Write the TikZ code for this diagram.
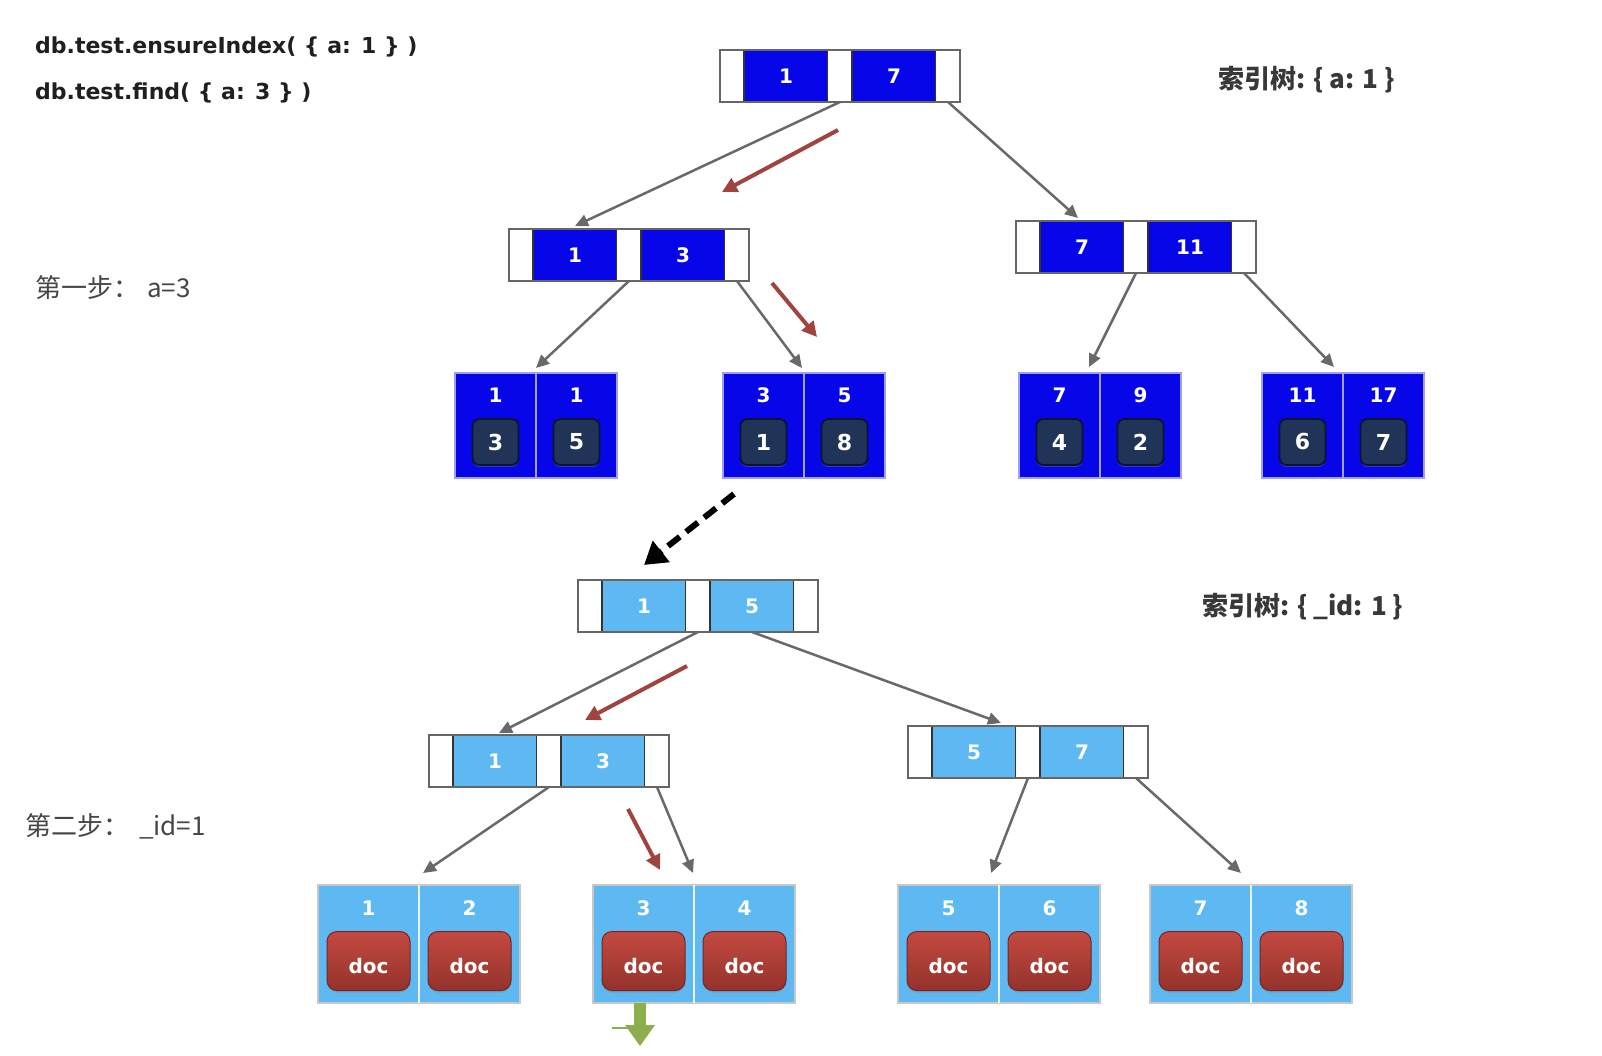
\documentclass[tikz,border=0pt]{standalone}
\usepackage{fontspec}
\setmainfont{DejaVu Sans}
\newfontfamily\mycjk{Noto Sans CJK SC}
\usetikzlibrary{arrows.meta,shadows}
\definecolor{dblue}{RGB}{6,6,232}
\definecolor{lblue}{RGB}{94,184,242}
\definecolor{innerbox}{RGB}{32,52,88}
\definecolor{innerline}{RGB}{10,20,45}
\definecolor{docTop}{RGB}{196,74,64}
\definecolor{docBot}{RGB}{148,50,44}
\definecolor{docLine}{RGB}{120,36,32}
\definecolor{hint}{RGB}{160,68,64}
\definecolor{edgegray}{RGB}{105,105,105}
\definecolor{leafgreen}{RGB}{140,174,76}
\definecolor{lavender}{RGB}{160,160,235}
\definecolor{labelgray}{RGB}{70,70,70}
\newcommand{\mynum}{\fontsize{20}{24}\selectfont\bfseries}
\newcommand{\mycode}{\fontsize{22}{26}\selectfont\bfseries}
\newcommand{\myidx}{\mycjk\fontsize{26}{30}\selectfont\bfseries}
\newcommand{\mystep}{\mycjk\fontsize{26}{30}\selectfont}
\tikzset{
  bbox/.style={minimum width=240pt, minimum height=52pt, inner sep=0pt, outer sep=0pt},
  wcell/.style={minimum width=24pt, minimum height=52pt, inner sep=0pt, outer sep=0pt, fill=white},
  bcell/.style={minimum width=84pt, minimum height=52pt, inner sep=0pt, outer sep=0pt, draw=black!80, line width=1.2pt, text=white, font=\mynum},
  boxline/.style={draw=black!60, line width=2.5pt},
  tleaf/.style={minimum width=162pt, minimum height=105pt, inner sep=0pt, outer sep=0pt},
  tcell/.style={minimum width=81pt, minimum height=105pt, inner sep=0pt, outer sep=0pt, fill=dblue, draw=lavender, line width=1.5pt},
  bleaf/.style={minimum width=202pt, minimum height=118pt, inner sep=0pt, outer sep=0pt},
  bcellleaf/.style={minimum width=101pt, minimum height=118pt, inner sep=0pt, outer sep=0pt, fill=lblue, draw=black!22, line width=1.5pt},
  numtxt/.style={text=white, font=\mynum, inner sep=0pt},
  ibox/.style={minimum width=46pt, minimum height=46pt, inner sep=0pt, rounded corners=7pt, fill=innerbox, draw=innerline, line width=1.8pt, text=white, font=\fontsize{22}{24}\selectfont\bfseries, drop shadow={opacity=0.4, shadow xshift=0pt, shadow yshift=-2pt}},
  docbox/.style={minimum width=83pt, minimum height=59pt, inner sep=0pt, rounded corners=10pt, top color=docTop, bottom color=docBot, draw=docLine, line width=1pt, drop shadow={opacity=0.35, shadow xshift=0pt, shadow yshift=-2pt}},
  doctxt/.style={text=white, font=\mynum, inner sep=0pt},
  conn/.style={draw=edgegray, line width=2.5pt, -{Triangle[length=13pt,width=12pt]}},
  hintarrow/.style={draw=hint, line width=4pt, -{Triangle[length=15pt,width=15pt]}},
  jump/.style={draw=black, line width=6pt, dash pattern=on 15pt off 8pt, -{Triangle[length=22pt,width=26pt]}},
}
% name, left x, top y, fill, label 1, label 2
\newcommand{\bnode}[6]{%
  \node[bbox, anchor=north west] (#1) at (#2,#3) {};
  \node[wcell, anchor=north west] (#1-w1) at (#1.north west) {};
  \node[bcell, fill=#4, anchor=north west] (#1-a) at (#1-w1.north east) {#5};
  \node[wcell, anchor=north west] (#1-w2) at (#1-a.north east) {};
  \node[bcell, fill=#4, anchor=north west] (#1-b) at (#1-w2.north east) {#6};
  \node[wcell, anchor=north west] (#1-w3) at (#1-b.north east) {};
  \draw[boxline] (#1.north west) rectangle (#1.south east);
}
% name, left x, top y, n1, i1, n2, i2
\newcommand{\topleaf}[7]{%
  \node[tleaf, anchor=north west] (#1) at (#2,#3) {};
  \node[tcell, anchor=north west] (#1-a) at (#1.north west) {};
  \node[tcell, anchor=north west] (#1-b) at (#1-a.north east) {};
  \node[numtxt] (#1-na) at ([yshift=-22pt]#1-a.north) {#4};
  \node[numtxt] (#1-nb) at ([yshift=-22pt]#1-b.north) {#6};
  \node[ibox] (#1-ia) at ([yshift=-69pt]#1-a.north) {#5};
  \node[ibox] (#1-ib) at ([yshift=-69pt]#1-b.north) {#7};
}
% name, left x, top y, n1, n2
\newcommand{\docleaf}[5]{%
  \node[bleaf, anchor=north west] (#1) at (#2,#3) {};
  \node[bcellleaf, anchor=north west] (#1-a) at (#1.north west) {};
  \node[bcellleaf, anchor=north west] (#1-b) at (#1-a.north east) {};
  \draw[white!85!lblue, line width=1.5pt] (#1-a.north east) -- (#1-a.south east);
  \node[numtxt] (#1-na) at ([yshift=-23pt]#1-a.north) {#4};
  \node[numtxt] (#1-nb) at ([yshift=-23pt]#1-b.north) {#5};
  \node[docbox] (#1-da) at ([yshift=-76pt]#1-a.north) {};
  \node[docbox] (#1-db) at ([yshift=-76pt]#1-b.north) {};
  \node[doctxt] at ([yshift=-5pt]#1-da.center) {doc};
  \node[doctxt] at ([yshift=-5pt]#1-db.center) {doc};
}
\begin{document}
\begin{tikzpicture}[x=1pt,y=-1pt]
\useasboundingbox[fill=white] (0,0) rectangle (1602,1056);

% texts
\node[anchor=west, inner sep=0pt, text=black!88, font=\mycode] (code1) at (35,47) {db.test.ensureIndex( \{ a: 1 \} )};
\node[anchor=west, inner sep=0pt, text=black!88, font=\mycode] (code2) at (35,93) {db.test.find( \{ a: 3 \} )};
\node[anchor=west, inner sep=0pt, text=black!78, font=\myidx] (idx1) at (1218,80) {索引树: \{ a: 1 \}};
\node[anchor=west, inner sep=0pt, text=black!78, font=\myidx] (idx2) at (1202,607) {索引树: \{ \_id: 1 \}};
\node[anchor=west, inner sep=0pt, text=labelgray, font=\mystep] (step1) at (35,288) {第一步：\hspace{8pt}a=3};
\node[anchor=west, inner sep=0pt, text=labelgray, font=\mystep] (step2) at (25,826) {第二步：\hspace{10pt}\_id=1};

% index tree {a:1}
\bnode{root}{720}{50}{dblue}{1}{7}
\bnode{lvl}{509}{229}{dblue}{1}{3}
\bnode{lvr}{1016}{221}{dblue}{7}{11}
\topleaf{t1}{455}{373}{1}{3}{1}{5}
\topleaf{t2}{723}{373}{3}{1}{5}{8}
\topleaf{t3}{1019}{373}{7}{4}{9}{2}
\topleaf{t4}{1262}{373}{11}{6}{17}{7}

% index tree {_id:1}
\bnode{broot}{578}{580}{lblue}{1}{5}
\bnode{bl}{429}{735}{lblue}{1}{3}
\bnode{br}{908}{726}{lblue}{5}{7}
\docleaf{b1}{318}{885}{1}{2}
\docleaf{b2}{593}{885}{3}{4}
\docleaf{b3}{898}{885}{5}{6}
\docleaf{b4}{1150}{885}{7}{8}

% connectors
\draw[conn] (root-w2.south) -- ([yshift=3pt]lvl-a.north);
\draw[conn] (root-w3.south) -- ([xshift=-4pt,yshift=3pt]lvr-a.north);
\draw[conn] (lvl-w2.south) -- ([yshift=5pt]t1.north);
\draw[conn] (lvl-w3.south) -- ([xshift=-2pt,yshift=5pt]t2.north);
\draw[conn] (lvr-w2.south) -- ([xshift=-11pt,yshift=6pt]t3.north);
\draw[conn] (lvr-w3.south) -- ([xshift=-9pt,yshift=6pt]t4.north);

\draw[conn] (broot-w2.south) -- ([xshift=4pt,yshift=2pt]bl-a.north);
\draw[conn] (broot-b.south) -- ([xshift=-15pt,yshift=3pt]br-a.north east);
\draw[conn] (bl-w2.south) -- ([xshift=4pt,yshift=12pt]b1.north);
\draw[conn] (bl-w3.south) -- ([xshift=-1pt,yshift=12pt]b2.north);
\draw[conn] (br-w2.south) -- ([xshift=-8pt,yshift=12pt]b3.north);
\draw[conn] (br-w3.south) -- ([xshift=-10pt,yshift=12pt]b4.north);

% search-path hints
\coordinate (h1s) at (838,130);
\coordinate (h1e) at (722,192);
\coordinate (h2s) at (772,283);
\coordinate (h2e) at (817,337);
\coordinate (h3s) at (687,666);
\coordinate (h3e) at (585,720);
\coordinate (h4s) at (628,809);
\coordinate (h4e) at (660,870);
\draw[hintarrow] (h1s) -- (h1e);
\draw[hintarrow] (h2s) -- (h2e);
\draw[hintarrow] (h3s) -- (h3e);
\draw[hintarrow] (h4s) -- (h4e);

% jump from leaf to second tree
\coordinate (js) at (734,494);
\coordinate (je) at (644,565);
\draw[jump] (js) -- (je);

% green result arrow
\fill[leafgreen] (634,1003) rectangle (646,1028);
\fill[leafgreen] (625,1025) -- (655,1025) -- (640,1046) -- cycle;
\draw[leafgreen, line width=1.5pt] (612,1028) -- (634,1028);
\end{tikzpicture}
\end{document}
